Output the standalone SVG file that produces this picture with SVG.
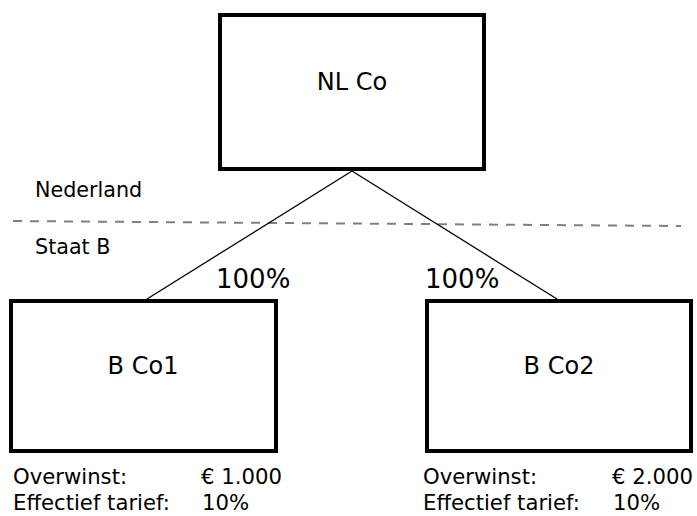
<svg xmlns="http://www.w3.org/2000/svg" width="697" height="516" viewBox="0 0 697 516">
  <style>
    .box { fill: #ffffff; stroke: #000000; stroke-width: 4; }
    .link { stroke: #000000; stroke-width: 1.3; fill: none; }
    .border { stroke: #808080; stroke-width: 2; stroke-dasharray: 9 8; fill: none; }
    text { font-family: "DejaVu Sans", Verdana, sans-serif; fill: #000000; }
    .name { font-size: 24px; text-anchor: middle; }
    .pct { font-size: 26px; }
    .note { font-size: 20.7px; }
    .row { font-size: 21.2px; }
  </style>
  <rect width="697" height="516" fill="#ffffff"/>

  <!-- border between the two countries -->
  <line class="border" x1="13" y1="221" x2="681" y2="226"/>
  <text class="note" x="35" y="197">Nederland</text>
  <text class="note" x="35" y="254">Staat B</text>

  <!-- ownership links -->
  <g id="connectors">
    <line class="link" x1="352" y1="171" x2="147" y2="299"/>
    <line class="link" x1="352" y1="171" x2="557" y2="299"/>
  </g>
  <text class="pct" x="216" y="288">100%</text>
  <text class="pct" x="425" y="288">100%</text>

  <g id="nl-co">
    <rect class="box" x="220" y="15" width="264" height="154"/>
    <text class="name" x="352" y="90">NL Co</text>
  </g>

  <g id="b-co1">
    <rect class="box" x="11" y="301" width="265" height="150"/>
    <text class="name" x="143" y="374">B Co1</text>
    <text class="row" x="13" y="484">Overwinst:</text>
    <text class="row" x="201" y="484">€ 1.000</text>
    <text class="row" x="13" y="510">Effectief tarief:</text>
    <text class="row" x="202" y="510">10%</text>
  </g>

  <g id="b-co2">
    <rect class="box" x="427" y="301" width="264" height="150"/>
    <text class="name" x="559" y="374">B Co2</text>
    <text class="row" x="423" y="484">Overwinst:</text>
    <text class="row" x="612" y="484">€ 2.000</text>
    <text class="row" x="423" y="510">Effectief tarief:</text>
    <text class="row" x="613" y="510">10%</text>
  </g>
</svg>
